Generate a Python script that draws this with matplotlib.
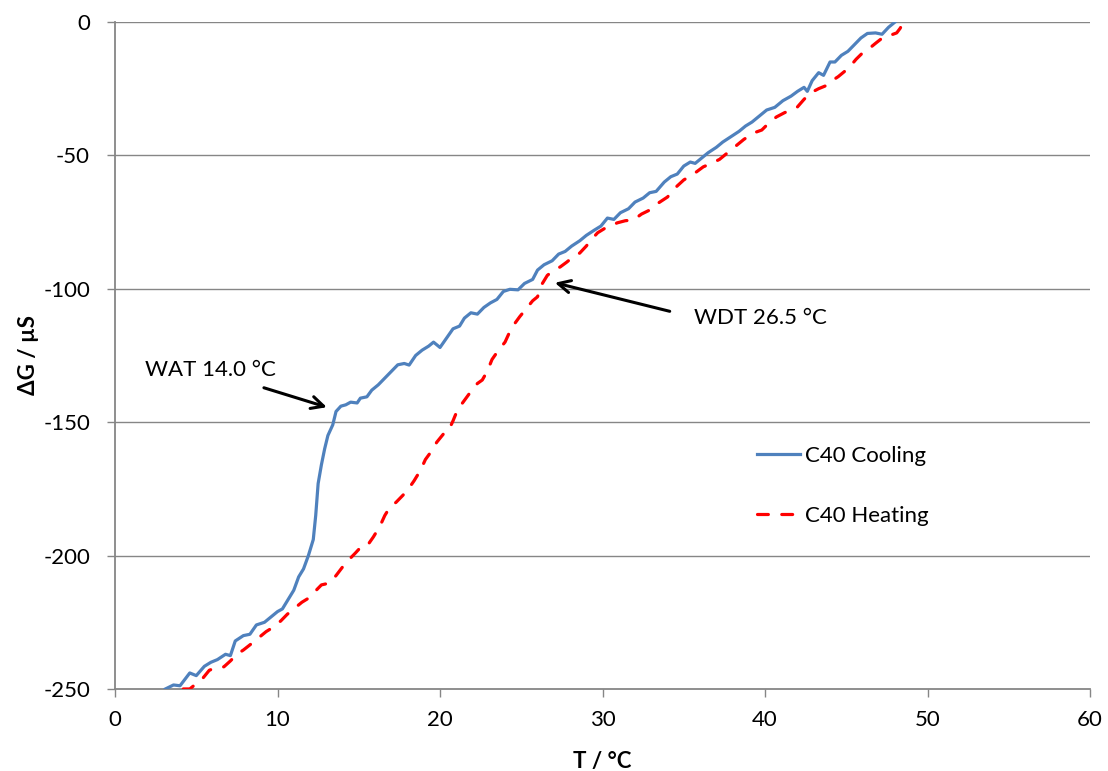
import matplotlib
matplotlib.use("Agg")
import matplotlib.pyplot as plt

plt.rcParams['font.family'] = ['Lato', 'DejaVu Sans']

# C40 cooling run: temperature (°C) and conductance change (µS)
cool_T = [3.1, 3.6, 4.0, 4.6, 5.0, 5.5, 5.9, 6.3, 6.8, 7.1, 7.4, 7.9, 8.3, 8.7, 9.2,
          9.6, 10.0, 10.3, 10.6, 11.0, 11.3, 11.6, 11.9, 12.2, 12.35, 12.5, 12.7, 12.9,
          13.1, 13.4, 13.6, 13.9, 14.2, 14.5, 14.9, 15.1, 15.5, 15.8, 16.2, 16.6, 17.0,
          17.4, 17.8, 18.1, 18.5, 18.9, 19.3, 19.6, 20.0, 20.4, 20.8, 21.2, 21.5, 21.9,
          22.3, 22.7, 23.1, 23.5, 23.9, 24.3, 24.8, 25.2, 25.7, 26.0, 26.4, 26.9, 27.3,
          27.7, 28.1, 28.6, 29.0, 29.5, 29.9, 30.3, 30.7, 31.1, 31.6, 32.0, 32.5, 32.9,
          33.3, 33.8, 34.2, 34.6, 35.0, 35.4, 35.7, 36.1, 36.5, 37.0, 37.4, 37.9, 38.4,
          38.8, 39.2, 39.7, 40.1, 40.6, 41.1, 41.6, 42.0, 42.4, 42.6, 42.9, 43.3, 43.6,
          44.0, 44.3, 44.7, 45.1, 45.5, 45.9, 46.3, 46.8, 47.2, 47.6, 48.0]
cool_G = [-250, -248.5, -248.8, -244, -245, -241.5, -240, -239, -237, -237.5, -232, -230,
          -229.5, -226, -225, -223, -221, -220, -217, -213, -208, -205, -200, -194, -185,
          -173, -166, -160, -155, -151, -146, -144, -143.5, -142.5, -142.8, -141, -140.5,
          -138, -136, -133.5, -131, -128.5, -128, -128.6, -125, -123, -121.5, -120, -122,
          -118.5, -115, -114, -111, -109, -109.5, -107, -105.3, -104, -101, -100.2, -100.4,
          -98, -96.5, -93, -91, -89.5, -87, -86, -84, -82, -80, -78, -76.5, -73.5, -74,
          -71.5, -70, -67.5, -66, -64, -63.5, -60, -58, -57, -54, -52.5, -53, -51, -49,
          -47, -45, -43, -41, -39, -37.5, -35, -33, -32, -29.5, -27.8, -26, -24.5, -26,
          -22, -19, -20, -15, -15, -12.5, -11, -8.5, -6, -4.3, -4.1, -4.6, -2, 0]

# C40 heating run
heat_T = [4.2, 4.6, 5.0, 5.4, 5.8, 6.2, 6.7, 7.1, 7.5, 7.9, 8.4, 8.9, 9.3, 9.7, 10.2,
          10.6, 11.0, 11.5, 11.9, 12.3, 12.7, 13.2, 13.6, 14.0, 14.4, 14.8, 15.1, 15.5,
          15.9, 16.3, 16.6, 16.9, 17.3, 17.7, 18.0, 18.4, 18.8, 19.1, 19.4, 19.8, 20.2,
          20.5, 20.8, 21.0, 21.3, 21.6, 21.9, 22.3, 22.6, 22.9, 23.2, 23.6, 24.0, 24.3,
          24.6, 24.9, 25.3, 25.7, 26.0, 26.3, 26.6, 27.0, 27.4, 27.8, 28.2, 28.6, 29.0,
          29.4, 29.7, 30.1, 30.5, 30.9, 31.4, 31.9, 32.4, 32.9, 33.4, 34.0, 34.5, 35.0,
          35.6, 36.2, 36.7, 37.2, 37.7, 38.2, 38.7, 39.3, 39.8, 40.3, 40.7, 41.2, 41.6,
          42.0, 42.4, 42.8, 43.3, 43.7, 44.0, 44.5, 45.0, 45.2, 45.6, 46.0, 46.4, 46.8,
          47.3, 47.7, 48.1, 48.3, 48.5]
heat_G = [-250, -250, -248, -246, -243, -242, -241.7, -239.5, -237, -235.4, -233, -230.5,
          -228.5, -227, -224.5, -222, -220, -217.5, -216, -213.5, -211, -210.3, -207.5,
          -204.3, -201.5, -199, -197, -196.5, -193, -189, -185, -182, -180, -177.5, -175.5,
          -172, -168, -164, -161.5, -157.5, -154.5, -153.5, -149.5, -146.5, -143.5, -141,
          -138.5, -135.5, -134.2, -131, -126.5, -123, -120, -116, -113, -110.5, -107.5,
          -104.5, -103, -98, -95, -93, -91.8, -90, -88, -86.6, -84, -81, -79, -77.5, -76.5,
          -75.3, -74.5, -74.2, -72, -70.5, -68, -65.6, -62, -59.2, -57, -54.3, -53, -51.5,
          -49, -46.5, -44, -41.6, -40.5, -37.5, -35.6, -34, -33, -31.8, -29, -26.6, -25,
          -24, -22.5, -20.5, -18, -16.9, -14, -11.6, -10, -8, -5.6, -5, -4.1, -2.5, -0.4]

x_ticks = [0, 10, 20, 30, 40, 50, 60]
y_ticks = [-250, -200, -150, -100, -50, 0]

grid_col = '#868686'
fs = 16

fig = plt.figure(figsize=(11.08, 7.71), dpi=100)
ax = fig.add_axes([0.1038, 0.1064, 0.8800, 0.8651])

ax.plot(cool_T, cool_G, color='#4F81BD', lw=2.3, solid_joinstyle='round',
        label='C40 Cooling', zorder=3)
ax.plot(heat_T, heat_G, color='#FF0000', lw=2.3, linestyle=(0, (3.4, 4.2)),
        dash_capstyle='round', label='C40 Heating', zorder=3)

ax.set_xlim(0, 60)
ax.set_ylim(-250, 0)
ax.set_xticks(x_ticks)
ax.set_yticks(y_ticks)
ax.set_yticklabels([str(v) for v in y_ticks])

for v in y_ticks[1:]:
    ax.axhline(v, color=grid_col, lw=1.0, zorder=1)

for s in ('top', 'right'):
    ax.spines[s].set_visible(False)
for s in ('left', 'bottom'):
    ax.spines[s].set_color(grid_col)
    ax.spines[s].set_linewidth(1.3)

ax.tick_params(axis='both', direction='out', length=6, width=1.0, color=grid_col,
               labelsize=fs, labelcolor='black')
ax.tick_params(axis='x', pad=9)
ax.tick_params(axis='y', pad=12)

ax.set_xlabel('T / °C', fontsize=fs, fontweight='bold', labelpad=15)
ax.set_ylabel('ΔG / µS', fontsize=fs, fontweight='bold', labelpad=3)

arrow = dict(arrowstyle='->', color='black', lw=2.2, mutation_scale=22)
ax.annotate('', xy=(13.2, -144.7), xytext=(9.0, -136.8), arrowprops=arrow)
ax.annotate('', xy=(26.9, -97.5), xytext=(34.3, -108.7), arrowprops=arrow)
ax.text(1.85, -130.4, 'WAT 14.0 °C', fontsize=fs, va='center', ha='left')
ax.text(35.6, -111.0, 'WDT 26.5 °C', fontsize=fs, va='center', ha='left')

leg = ax.legend(loc='center left', bbox_to_anchor=(0.658, 0.305), frameon=False,
                fontsize=fs, handlelength=1.95, handletextpad=0.25, labelspacing=1.8,
                borderpad=0, borderaxespad=0)

fig.savefig('out.png', dpi=100)
